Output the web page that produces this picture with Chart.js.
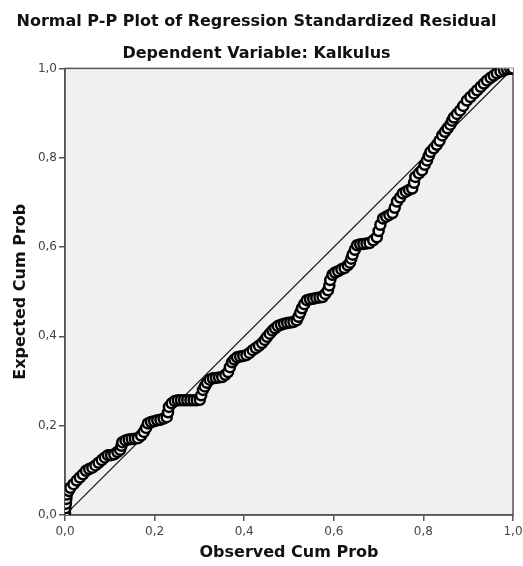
<!DOCTYPE html>
<html>
<head>
<meta charset="utf-8">
<script src="https://cdn.jsdelivr.net/npm/chart.js@4.4.0/dist/chart.umd.min.js"></script>
<style>
  body { margin: 0; background: #fff; }
  #wrap { width: 523px; height: 566px; }
</style>
</head>
<body>
<div id="wrap"><canvas id="grafico" width="523" height="566"></canvas></div>
<script>
// --- DADOS ---
const tituloTexto = 'Normal P-P Plot of Regression Standardized Residual';
const subtituloTexto = 'Dependent Variable: Kalkulus';
const eixoXTitulo = 'Observed Cum Prob';
const eixoYTitulo = 'Expected Cum Prob';
const ticksValores = [0, 0.2, 0.4, 0.6, 0.8, 1.0];

// Observed Cum Prob
const observado = [
  0.000, 0.001, 0.002, 0.003, 0.004, 0.008, 0.012, 0.019, 0.026, 0.033,
  0.040, 0.047, 0.054, 0.061, 0.068, 0.075, 0.082, 0.089, 0.096, 0.103,
  0.110, 0.117, 0.123, 0.126, 0.128, 0.135, 0.142, 0.149, 0.156, 0.163,
  0.170, 0.176, 0.181, 0.185, 0.192, 0.199, 0.206, 0.213, 0.220, 0.227,
  0.230, 0.232, 0.238, 0.245, 0.252, 0.259, 0.266, 0.273, 0.280, 0.287,
  0.294, 0.301, 0.304, 0.308, 0.312, 0.317, 0.323, 0.330, 0.337, 0.344,
  0.351, 0.358, 0.364, 0.368, 0.373, 0.378, 0.384, 0.391, 0.398, 0.405,
  0.412, 0.419, 0.426, 0.433, 0.440, 0.446, 0.451, 0.457, 0.463, 0.469,
  0.475, 0.482, 0.489, 0.496, 0.503, 0.510, 0.517, 0.521, 0.525, 0.529,
  0.534, 0.540, 0.547, 0.554, 0.561, 0.568, 0.575, 0.581, 0.587, 0.590,
  0.592, 0.597, 0.603, 0.610, 0.617, 0.624, 0.631, 0.636, 0.639, 0.642,
  0.647, 0.652, 0.659, 0.666, 0.673, 0.680, 0.688, 0.696, 0.700, 0.704,
  0.710, 0.717, 0.724, 0.731, 0.736, 0.741, 0.748, 0.754, 0.761, 0.768,
  0.775, 0.779, 0.782, 0.790, 0.797, 0.803, 0.808, 0.812, 0.816, 0.823,
  0.830, 0.836, 0.842, 0.848, 0.854, 0.860, 0.864, 0.868, 0.875, 0.882,
  0.889, 0.897, 0.905, 0.913, 0.920, 0.928, 0.935, 0.942, 0.950, 0.957,
  0.964, 0.972, 0.980, 0.987, 0.994, 1.000
];

// Expected Cum Prob
const esperado = [
  0.005, 0.015, 0.025, 0.036, 0.046, 0.054, 0.061, 0.069, 0.077, 0.084,
  0.091, 0.099, 0.103, 0.106, 0.111, 0.117, 0.123, 0.129, 0.134, 0.134,
  0.136, 0.141, 0.146, 0.155, 0.163, 0.167, 0.169, 0.170, 0.171, 0.172,
  0.178, 0.186, 0.195, 0.205, 0.208, 0.210, 0.212, 0.213, 0.216, 0.219,
  0.230, 0.242, 0.250, 0.255, 0.257, 0.257, 0.257, 0.257, 0.257, 0.257,
  0.257, 0.258, 0.268, 0.280, 0.288, 0.296, 0.303, 0.306, 0.307, 0.308,
  0.309, 0.314, 0.320, 0.331, 0.342, 0.348, 0.353, 0.355, 0.356, 0.358,
  0.363, 0.369, 0.374, 0.379, 0.385, 0.392, 0.399, 0.406, 0.413, 0.418,
  0.423, 0.426, 0.428, 0.430, 0.431, 0.432, 0.436, 0.444, 0.453, 0.463,
  0.472, 0.481, 0.483, 0.484, 0.486, 0.487, 0.488, 0.495, 0.503, 0.514,
  0.526, 0.538, 0.543, 0.546, 0.550, 0.553, 0.559, 0.565, 0.574, 0.583,
  0.594, 0.604, 0.606, 0.607, 0.608, 0.609, 0.615, 0.622, 0.636, 0.650,
  0.664, 0.668, 0.672, 0.676, 0.688, 0.702, 0.711, 0.720, 0.724, 0.728,
  0.731, 0.744, 0.757, 0.765, 0.772, 0.784, 0.794, 0.804, 0.813, 0.821,
  0.829, 0.838, 0.850, 0.858, 0.866, 0.874, 0.883, 0.890, 0.898, 0.906,
  0.916, 0.928, 0.936, 0.944, 0.951, 0.959, 0.966, 0.973, 0.979, 0.984,
  0.989, 0.993, 0.996, 0.998, 0.999, 1.000
];

// linha de referência (diagonal)
const diagonalX = [0, 1];
const diagonalY = [0, 1];

// --- MONTAGEM ---
const pontos = observado.map((x, i) => ({ x: x, y: esperado[i] }));
const diagonal = diagonalX.map((x, i) => ({ x: x, y: diagonalY[i] }));

const fonteTexto = 'DejaVu Sans';
const formatarVirgula = v => Number(v).toFixed(1).replace('.', ',');

// fundo cinza e moldura da área do gráfico
const molduraPlugin = {
  id: 'moldura',
  beforeDraw(chart) {
    const { ctx, chartArea: a } = chart;
    ctx.save();
    ctx.fillStyle = '#f0f0f0';
    ctx.fillRect(a.left, a.top, a.right - a.left, a.bottom - a.top);
    ctx.restore();
  },
  beforeDatasetsDraw(chart) {
    const { ctx, chartArea: a } = chart;
    ctx.save();
    ctx.strokeStyle = '#555';
    ctx.lineWidth = 1.5;
    ctx.strokeRect(a.left, a.top, a.right - a.left, a.bottom - a.top);
    ctx.restore();
  }
};

const eixoComum = {
  type: 'linear',
  min: 0,
  max: 1,
  afterBuildTicks: scale => {
    scale.ticks = ticksValores.map(v => ({ value: v }));
  },
  grid: {
    drawOnChartArea: false,
    drawTicks: true,
    tickLength: 6,
    color: '#555',
    lineWidth: 1.5
  },
  border: { display: true, color: '#555', width: 1.5 },
  ticks: {
    color: '#444',
    font: { family: fonteTexto, size: 12 },
    padding: 2,
    callback: formatarVirgula
  }
};

new Chart(document.getElementById('grafico'), {
  type: 'scatter',
  data: {
    datasets: [
      {
        label: 'Observed',
        data: pontos,
        pointRadius: 5,
        pointBorderWidth: 2.5,
        pointBorderColor: '#000',
        pointBackgroundColor: '#f4f4f4',
        pointHoverRadius: 5
      },
      {
        label: 'Diagonal',
        type: 'line',
        data: diagonal,
        borderColor: '#111',
        borderWidth: 1.2,
        pointRadius: 0,
        fill: false
      }
    ]
  },
  options: {
    responsive: false,
    animation: false,
    devicePixelRatio: 1,
    layout: { padding: { left: 0, right: 10, top: 0, bottom: 0 } },
    plugins: {
      legend: { display: false },
      tooltip: { enabled: false },
      title: {
        display: true,
        text: tituloTexto,
        color: '#111',
        font: { family: fonteTexto, size: 16, weight: 'bold', lineHeight: 1.2 },
        padding: { top: 12, bottom: 6 }
      },
      subtitle: {
        display: true,
        text: subtituloTexto,
        color: '#111',
        font: { family: fonteTexto, size: 16, weight: 'bold', lineHeight: 1.2 },
        padding: { top: 7, bottom: 5 }
      }
    },
    scales: {
      x: Object.assign({}, eixoComum, {
        position: 'bottom',
        ticks: Object.assign({}, eixoComum.ticks, { padding: 4, maxRotation: 0 }),
        title: {
          display: true,
          text: eixoXTitulo,
          color: '#111',
          font: { family: fonteTexto, size: 16, weight: 'bold', lineHeight: 1.2 },
          padding: { top: 0, bottom: 4 }
        },
        afterFit: scale => {
          scale.height = 51;
          scale.paddingLeft = 0;
          scale.paddingRight = 0;
        }
      }),
      y: Object.assign({}, eixoComum, {
        position: 'left',
        title: {
          display: true,
          text: eixoYTitulo,
          color: '#111',
          font: { family: fonteTexto, size: 16, weight: 'bold', lineHeight: 1.2 },
          padding: { top: 11, bottom: 0 }
        },
        afterFit: scale => {
          scale.width = 65;
          scale.paddingTop = 0;
          scale.paddingBottom = 0;
        }
      })
    }
  },
  plugins: [molduraPlugin]
});
</script>
</body>
</html>
